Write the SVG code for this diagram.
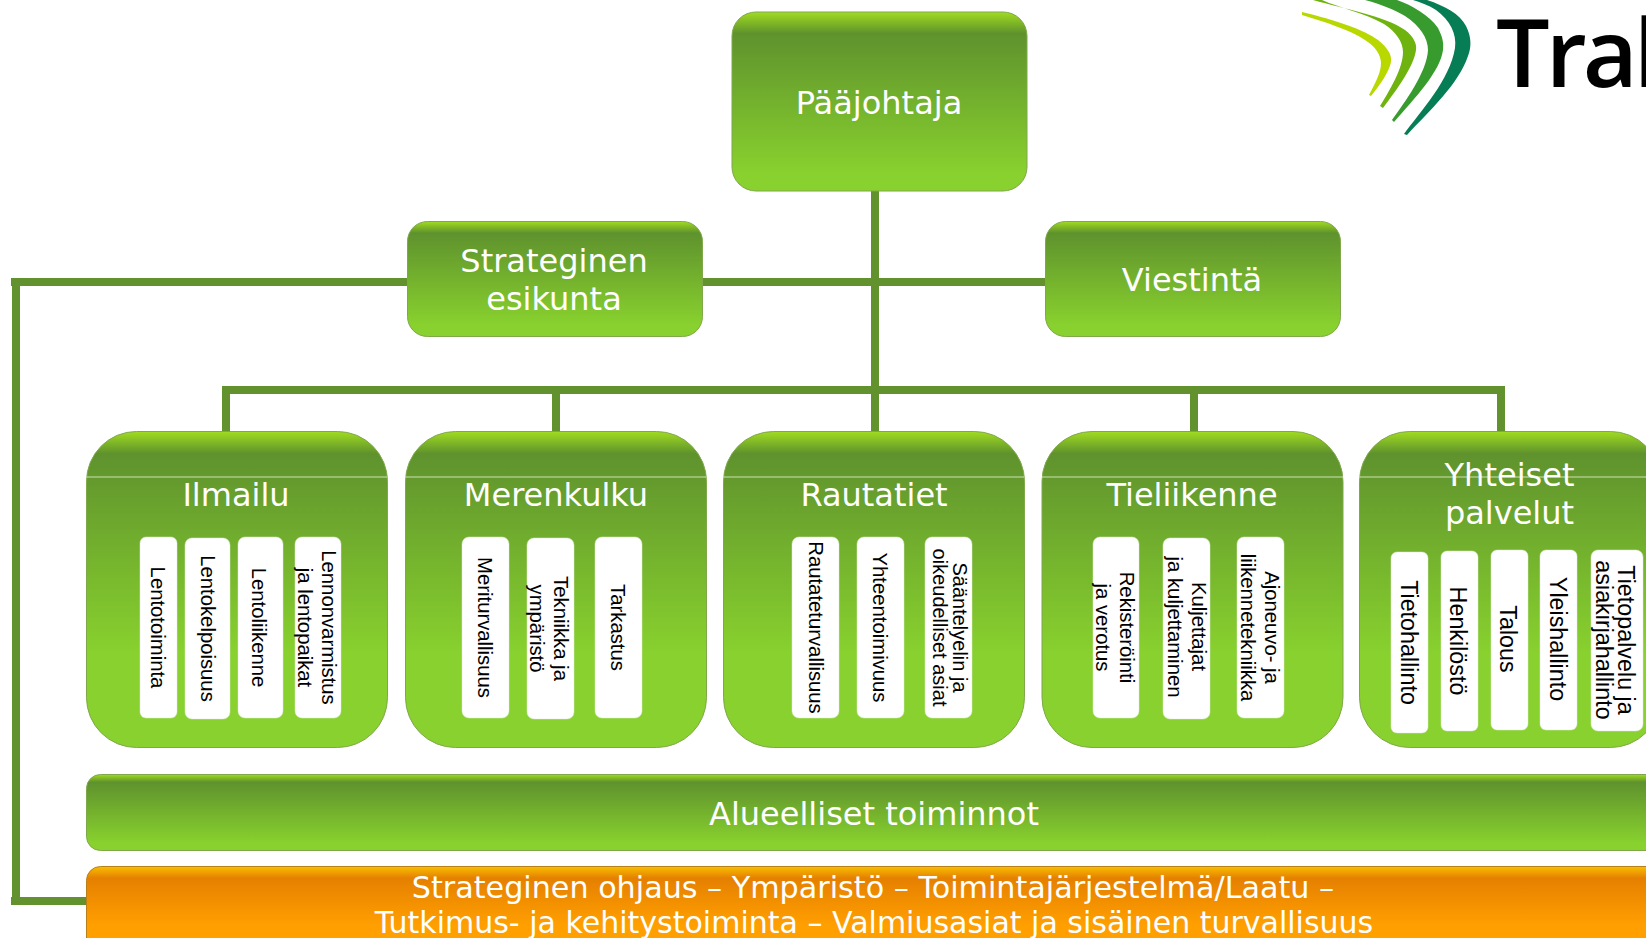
<svg xmlns="http://www.w3.org/2000/svg" width="1646" height="938" viewBox="0 0 1646 938">
<style>
.n{stroke:#7fa84a;stroke-width:1}
.t{font-family:"DejaVu Sans",Verdana,sans-serif;fill:#fff;text-anchor:middle}
.s{font-size:32px}
.c{fill:#fff;stroke:#dfe8d5;stroke-width:.5}
.v{font-family:"Liberation Sans",Arial,sans-serif;font-size:20.300px;fill:#000;text-anchor:middle}
.w{font-size:23.300px}
.k{fill:#61922d}
</style>
<defs>
<linearGradient id="g" x1="0" y1="0" x2="0" y2="1"><stop offset="0" stop-color="#a0dc20"/><stop offset=".07" stop-color="#5f922d"/><stop offset=".7" stop-color="#88d12e"/><stop offset="1" stop-color="#88d12e"/></linearGradient>
<linearGradient id="g3" x1="0" y1="0" x2="0" y2="1"><stop offset="0" stop-color="#a0dc20"/><stop offset=".12" stop-color="#5f922d"/><stop offset=".9" stop-color="#88d12e"/><stop offset="1" stop-color="#88d12e"/></linearGradient>
<linearGradient id="g2" x1="0" y1="0" x2="0" y2="1"><stop offset="0" stop-color="#a0dc20"/><stop offset=".1" stop-color="#5f922d"/><stop offset=".9" stop-color="#88d12e"/><stop offset="1" stop-color="#88d12e"/></linearGradient>
<linearGradient id="o" x1="0" y1="0" x2="0" y2="1"><stop offset="0" stop-color="#f8bf00"/><stop offset=".13" stop-color="#e58000"/><stop offset=".65" stop-color="#ff9f00"/><stop offset="1" stop-color="#ff9f00"/></linearGradient>
</defs>
<g id="connectors" class="k">
<rect x="871" y="191" width="8" height="240"/>
<rect x="11" y="278" width="396" height="8"/>
<rect x="702" y="278" width="343" height="8"/>
<rect x="12" y="278" width="8" height="627"/>
<rect x="11" y="897" width="76" height="8"/>
<rect x="222" y="386" width="1283" height="8"/>
<rect x="222" y="386" width="8" height="45"/>
<rect x="552" y="386" width="8" height="45"/>
<rect x="871" y="386" width="8" height="45"/>
<rect x="1190" y="386" width="8" height="45"/>
<rect x="1497" y="386" width="8" height="45"/>
</g>
<g id="logo">
<path d="M1302 12C1335 20 1365 30 1378 40C1388 48 1392 55 1391 62C1389 72 1380 85 1371 96L1369 95C1376 82 1381 72 1381 63C1381 55 1375 46 1365 40C1350 30 1325 22 1302 15Z" fill="#b9d800"/>
<path d="M1313 0C1345 9 1385 16 1405 30C1414 37 1417 44 1416 50C1414 66 1398 88 1383 108L1380 106C1390 90 1403 68 1403 52C1403 42 1396 32 1384 24C1365 13 1340 8 1322 0Z" fill="#6fb30f"/>
<path d="M1397 0C1412 5 1430 16 1438 28C1442 36 1444 42 1443 50C1440 72 1415 98 1394 122L1392 120C1405 102 1427 72 1428 50C1428 38 1420 26 1405 16C1395 10 1380 4 1365 0Z" fill="#379b2e"/>
<path d="M1427 0C1445 6 1460 14 1466 26C1471 36 1472 46 1468 56C1458 85 1430 110 1407 135L1404 134C1420 112 1450 80 1455 48C1457 34 1450 20 1436 10C1428 5 1420 2 1413 0Z" fill="#067d55"/>
<text x="1496" y="87" style="font-family:'Open Sans','Liberation Sans',sans-serif;font-size:95px;font-weight:600;letter-spacing:-4px" fill="#000">Tral</text>
</g>
<g id="paajohtaja"><rect class="n" x="732" y="12" width="295" height="179" rx="24" fill="url(#g3)"/><text class="t s" x="879" y="114">Pääjohtaja</text></g>
<g id="strateginen"><rect class="n" x="407.500" y="221.500" width="295" height="115" rx="20" fill="url(#g2)"/><text class="t s" x="554" y="272">Strateginen</text><text class="t s" x="554" y="310">esikunta</text></g>
<g id="viestinta"><rect class="n" x="1045.500" y="221.500" width="295" height="115" rx="20" fill="url(#g2)"/><text class="t s" x="1192" y="291">Viestintä</text></g>
<g id="ilmailu"><rect class="n" x="86.500" y="431.500" width="301" height="316" rx="50" fill="url(#g)"/><path d="M86 477H387" stroke="#cfe0b5" stroke-width="1"/><text class="t s" x="236" y="506">Ilmailu</text>
<rect class="c" x="140" y="537" width="37" height="181" rx="6"/><text class="v" transform="translate(151 627.500) rotate(90)">Lentotoiminta</text>
<rect class="c" x="185" y="538" width="45" height="181" rx="7"/><text class="v" transform="translate(200.500 628.500) rotate(90)">Lentokelpoisuus</text>
<rect class="c" x="238" y="537" width="45" height="181" rx="7"/><text class="v" transform="translate(252 627.500) rotate(90)">Lentoliikenne</text>
<rect class="c" x="295" y="537" width="46" height="181" rx="7"/><text class="v" transform="translate(322 627.500) rotate(90)">Lennonvarmistus</text><text class="v" transform="translate(298 627.500) rotate(90)">ja lentopaikat</text></g>
<g id="merenkulku"><rect class="n" x="405.500" y="431.500" width="301" height="316" rx="50" fill="url(#g)"/><path d="M405 477H706" stroke="#cfe0b5" stroke-width="1"/><text class="t s" x="556" y="506">Merenkulku</text>
<rect class="c" x="462" y="537" width="47" height="181" rx="7"/><text class="v" transform="translate(478 627.500) rotate(90)">Meriturvallisuus</text>
<rect class="c" x="527" y="538" width="47" height="181" rx="7"/><text class="v" transform="translate(554 628.500) rotate(90)">Tekniikka ja</text><text class="v" transform="translate(530 628.500) rotate(90)">ympäristö</text>
<rect class="c" x="595" y="537" width="47" height="181" rx="7"/><text class="v" transform="translate(611 627.500) rotate(90)">Tarkastus</text></g>
<g id="rautatiet"><rect class="n" x="723.500" y="431.500" width="301" height="316" rx="50" fill="url(#g)"/><path d="M723 477H1024" stroke="#cfe0b5" stroke-width="1"/><text class="t s" x="874" y="506">Rautatiet</text>
<rect class="c" x="792" y="537" width="47" height="181" rx="7"/><text class="v" transform="translate(809 627.500) rotate(90)">Rautateturvallisuus</text>
<rect class="c" x="857" y="537" width="47" height="181" rx="7"/><text class="v" transform="translate(873 627.500) rotate(90)">Yhteentoimivuus</text>
<rect class="c" x="925" y="537" width="47" height="181" rx="7"/><text class="v" transform="translate(953 627.500) rotate(90)" style="font-size:20px">Sääntelyelin ja</text><text class="v" transform="translate(933 627.500) rotate(90)" style="font-size:20px">oikeudelliset asiat</text></g>
<g id="tieliikenne"><rect class="n" x="1042" y="431.500" width="301" height="316" rx="50" fill="url(#g)"/><path d="M1042 477H1343" stroke="#cfe0b5" stroke-width="1"/><text class="t s" x="1192" y="506">Tieliikenne</text>
<rect class="c" x="1093" y="537" width="46" height="181" rx="7"/><text class="v" transform="translate(1120 627.500) rotate(90)">Rekisteröinti</text><text class="v" transform="translate(1096 627.500) rotate(90)">ja verotus</text>
<rect class="c" x="1163" y="538" width="47" height="181" rx="7"/><text class="v" transform="translate(1192 626.500) rotate(90)">Kuljettajat</text><text class="v" transform="translate(1168 627) rotate(90)">ja kuljettaminen</text>
<rect class="c" x="1237" y="537" width="47" height="181" rx="7"/><text class="v" transform="translate(1265 627.500) rotate(90)">Ajoneuvo- ja</text><text class="v" transform="translate(1241 627.500) rotate(90)">liikennetekniikka</text></g>
<g id="yhteiset"><rect class="n" x="1359.500" y="431.500" width="301" height="316" rx="50" fill="url(#g)"/><path d="M1359 477H1646" stroke="#cfe0b5" stroke-width="1"/><text class="t s" x="1509.500" y="486">Yhteiset</text><text class="t s" x="1509.500" y="524">palvelut</text>
<rect class="c" x="1391" y="552" width="37" height="181" rx="6"/><text class="v w" transform="translate(1401 642.500) rotate(90)">Tietohallinto</text>
<rect class="c" x="1441" y="551" width="37" height="180" rx="6"/><text class="v w" transform="translate(1450 641) rotate(90)">Henkilöstö</text>
<rect class="c" x="1491" y="550" width="37" height="180" rx="6"/><text class="v w" transform="translate(1500 639) rotate(90)">Talous</text>
<rect class="c" x="1540" y="550" width="37" height="180" rx="6"/><text class="v w" transform="translate(1550 639) rotate(90)">Yleishallinto</text>
<rect class="c" x="1591" y="550" width="52" height="181" rx="7"/><text class="v w" transform="translate(1618 640) rotate(90)">Tietopalvelu ja</text><text class="v w" transform="translate(1596 640) rotate(90)">asiakirjahallinto</text></g>
<g id="alueelliset"><rect class="n" x="86.500" y="774.500" width="1600" height="76" rx="14" fill="url(#g2)"/><text class="t s" x="874" y="825">Alueelliset toiminnot</text></g>
<g id="strateginen-ohjaus"><rect x="86.500" y="866.500" width="1600" height="90" rx="14" fill="url(#o)" stroke="#b9801a"/><text class="t" style="font-size:30.200px" x="873" y="898">Strateginen ohjaus – Ympäristö – Toimintajärjestelmä/Laatu –</text><text class="t" style="font-size:30px" x="874" y="933">Tutkimus- ja kehitystoiminta – Valmiusasiat ja sisäinen turvallisuus</text></g>
</svg>
